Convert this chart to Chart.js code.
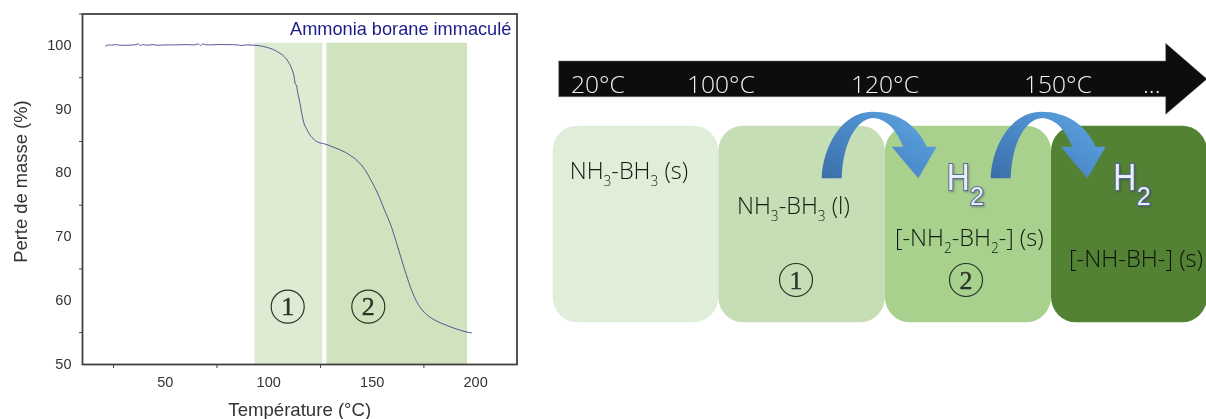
<!DOCTYPE html>
<html lang="fr"><head><meta charset="utf-8">
<script src="https://cdn.jsdelivr.net/npm/chart.js@4"></script>
<style>
html,body{margin:0;padding:0;background:#fff;width:1206px;height:419px;overflow:hidden}
#wrap{position:absolute;left:0;top:0;width:1206px;height:419px;filter:blur(0.35px)}
#c{position:absolute;left:0;top:0}
#d{position:absolute;left:0;top:0}
.lab{font-family:"Open Sans",sans-serif;font-weight:300}
</style></head><body>
<div id="wrap">
<canvas id="c" width="530" height="419"></canvas>
<svg id="d" width="1206" height="419" xmlns="http://www.w3.org/2000/svg">
<defs>
<linearGradient id="ag" x1="0" y1="1" x2="1" y2="0.2">
<stop offset="0" stop-color="#3a6ea8"/><stop offset="0.45" stop-color="#4a86c5"/><stop offset="1" stop-color="#5ba3e0"/>
</linearGradient>
<path id="arr" d="M821.7 178.3 C823 145 843 111.7 872 111.7 C898 111.7 917 125 926.7 146.7 L936.7 146.7 L918.3 178.3 L891.7 146.7 L903.3 146.7 C896 130 888 120 874 118 C858 118 843 140 841.7 178.3 Z"/>
</defs>
<g id="diagram"></g>
</svg>
</div>
<script>
// --- thermogravimetric curve
const temperature = [21,22,23,24,26,28,31,35,37,38,39,41,44,46,50,55,60,64,66,67,68,70,75,80,85,87,89,92.8,96,99.3,102,104.3,106.5,108.4,110,111.1,112.2,112.8,113.5,114.1,114.8,115.4,116,116.6,117.3,118.2,119.2,120.3,121.6,123.1,125,127.2,132.1,137,142,146,149.3,152.6,155.9,159.2,162.5,165.7,169,172.3,176.4,181.3,187.9,194.4,198.2];
const massLoss  = [99.95,100.1,100.15,100.1,100.2,100.1,100.1,100.15,100.3,100.05,100.2,100.1,100.2,100.1,100.15,100.15,100.2,100.15,100.3,100.05,100.3,100.15,100.2,100.2,100.15,100.05,100.15,100.1,100.0,99.75,99.45,99.06,98.6,98.0,97.2,96.45,95.3,94.1,93.7,92.5,91.5,90.45,89.4,88.4,87.6,87.05,86.4,85.85,85.4,85.0,84.75,84.6,84.0,83.3,82.2,80.8,79,76.9,74.3,71.7,68.3,64.9,61.7,59.4,57.8,56.8,55.9,55.2,54.95];
const band1X = [93,126];
const band2X = [127.8,195.9];
const bandTop = [100.5,100.5];
const xTicksMajor = [50,100,150,200];
const xTicksMinor = [25,75,125,175];
const yTicksMajor = [50,60,70,80,90,100];
const yTicksMinor = [55,65,75,85,95,105];

// --- schematic labels
const tempLabels = ["20°C","100°C","120°C","150°C","..."];
const tempX = [571,687,851,1024,1143];
const boxColours = ["#e0edd8","#c5deb5","#a9d18e","#548235"];
const boxEdges = [552.7,718.3,885,1051,1207];

const axisFrame = {
  id:'axisFrame',
  afterDatasetsDraw(ch){
    const {ctx,chartArea:a,scales:{x,y}} = ch;
    ctx.save();
    ctx.strokeStyle='#404040';ctx.lineWidth=1.8;
    ctx.strokeRect(a.left,a.top,a.right-a.left,a.bottom-a.top);
    ctx.lineWidth=1;ctx.strokeStyle='#444';
    ctx.beginPath();
    xTicksMinor.forEach(v=>{const p=x.getPixelForValue(v);ctx.moveTo(p,a.bottom);ctx.lineTo(p,a.bottom+3.5);});
    yTicksMinor.forEach(v=>{const p=y.getPixelForValue(v);ctx.moveTo(a.left,p);ctx.lineTo(a.left-3.5,p);});
    ctx.stroke();
    ctx.restore();
  }
};
const tickFont = {family:'"Liberation Sans",Arial,sans-serif',size:14.5};
const titleFont = {family:'"Liberation Sans",Arial,sans-serif',size:18.4};
new Chart(document.getElementById('c'),{
  type:'line',
  data:{datasets:[
    {label:'Perte de masse',data:temperature.map((t,i)=>({x:t,y:massLoss[i]})),borderColor:'#45458a',borderWidth:0.9,pointRadius:0,tension:0.3,order:1},
    {label:'Zone 1',data:band1X.map((t,i)=>({x:t,y:bandTop[i]})),borderWidth:0,borderColor:'transparent',pointRadius:0,fill:{value:50},backgroundColor:'#dcebd2',order:2},
    {label:'Zone 2',data:band2X.map((t,i)=>({x:t,y:bandTop[i]})),borderWidth:0,borderColor:'transparent',pointRadius:0,fill:{value:50},backgroundColor:'#cfe3bf',order:2}
  ]},
  options:{
    responsive:false,animation:false,
    layout:{padding:{left:0,top:14,right:13,bottom:0}},
    plugins:{legend:{display:false},tooltip:{enabled:false}},
    scales:{
      x:{type:'linear',min:10,max:220,
        afterBuildTicks:s=>{s.ticks=xTicksMajor.map(v=>({value:v}));},
        afterFit:s=>{s.height=419-364.5;},
        grid:{display:false,drawTicks:true,tickLength:6,tickColor:'#333',tickWidth:1.2},
        border:{display:false},
        ticks:{font:tickFont,color:'#333',padding:4,maxRotation:0,autoSkip:false},
        title:{display:true,text:'Température (°C)',font:{family:titleFont.family,size:18.6},color:'#333',padding:{top:0,bottom:-3}}},
      y:{type:'linear',min:50,max:105,
        afterBuildTicks:s=>{s.ticks=yTicksMajor.map(v=>({value:v}));},
        afterFit:s=>{s.width=82.5;},
        grid:{display:false,drawTicks:true,tickLength:6,tickColor:'#333',tickWidth:1.2},
        border:{display:false},
        ticks:{font:tickFont,color:'#333',padding:5,autoSkip:false},
        title:{display:true,text:'\u00a0\u00a0\u00a0Perte de masse (%)',font:titleFont,color:'#333',padding:{top:11,bottom:0}}}
    }
  },
  plugins:[axisFrame]
});

// --- schematic, built as SVG text and shapes
const NS='http://www.w3.org/2000/svg';
const g=document.getElementById('diagram');
function el(n,a,p){const e=document.createElementNS(NS,n);for(const k in a)e.setAttribute(k,a[k]);(p||g).appendChild(e);return e;}
function txt(parts,x,y,size,fill,cls){
  const t=el('text',{x,y,'font-size':size,fill,class:cls||'lab'});
  let sub=false;
  parts.forEach(s=>{
    const isSub=s[0]==='_';
    const ts=el('tspan',{},t);
    if(isSub){ts.setAttribute('font-size',size*0.58);ts.setAttribute('dy',size*0.3);ts.textContent=s.slice(1);sub=true;}
    else{if(sub){ts.setAttribute('dy',-size*0.3);sub=false;}ts.textContent=s;}
  });
  return t;
}
// temperature arrow
el('path',{d:'M558.7 61 H1165.7 V43.3 L1207 79 L1165.7 114.3 V96.7 H558.7 Z',fill:'#0d0d0d',stroke:'#777','stroke-width':0.5});
tempLabels.forEach((s,i)=>txt([s],tempX[i],93.3,24.6,'#f2f2f2'));
// state boxes
boxColours.forEach((c,i)=>el('rect',{x:boxEdges[i],y:125.7,width:boxEdges[i+1]-boxEdges[i],height:196.6,rx:25,ry:25,fill:c}));
txt(['NH','_3','-BH','_3',' (s)'],569.7,179,23.5,'#111a0d');
txt(['NH','_3','-BH','_3',' (l)'],737,214,23.5,'#111a0d');
txt(['[-NH','_2','-BH','_2','-] (s)'],895,246,23.5,'#111a0d');
txt(['[-NH-BH-] (s)'],1069,266.7,23.7,'#0a1207');
// curved arrows
el('use',{href:'#arr',fill:'url(#ag)'});
el('use',{href:'#arr',fill:'url(#ag)',transform:'translate(169,0)'});
// H2 labels
[[946.7,970],[1113.3,1136.7]].forEach(p=>{
  const common={fill:'#e9eef8',stroke:'#5a6c96','stroke-width':2,'font-family':'"Liberation Sans",Arial,sans-serif','paint-order':'stroke',style:'filter:drop-shadow(1px 1px 1px rgba(40,50,80,.45))'};
  el('text',Object.assign({x:p[0],y:190,'font-size':37,textLength:23,lengthAdjust:'spacingAndGlyphs'},common)).textContent='H';
  el('text',Object.assign({x:p[1],y:205,'font-size':25},common)).textContent='2';
});
// numbered circles
const circleCentres=[[287.7,306.7,'1'],[368.3,306.7,'2'],[796,280,'1'],[966,280,'2']];
circleCentres.forEach(c=>{
  el('circle',{cx:c[0],cy:c[1],r:16.5,fill:'none',stroke:'#2c332a','stroke-width':1.2});
  el('text',{x:c[0],y:c[1]+8.5,'font-size':26,'text-anchor':'middle',fill:'#2c332a',stroke:'#2c332a','stroke-width':0.4,'font-family':'"Liberation Serif",serif'}).textContent=c[2];
});
// plot caption
el('text',{x:290,y:35,'font-size':18.2,fill:'#1c1c8a','font-family':'"Liberation Sans",Arial,sans-serif'}).textContent='Ammonia borane immaculé';
</script>
</body></html>
